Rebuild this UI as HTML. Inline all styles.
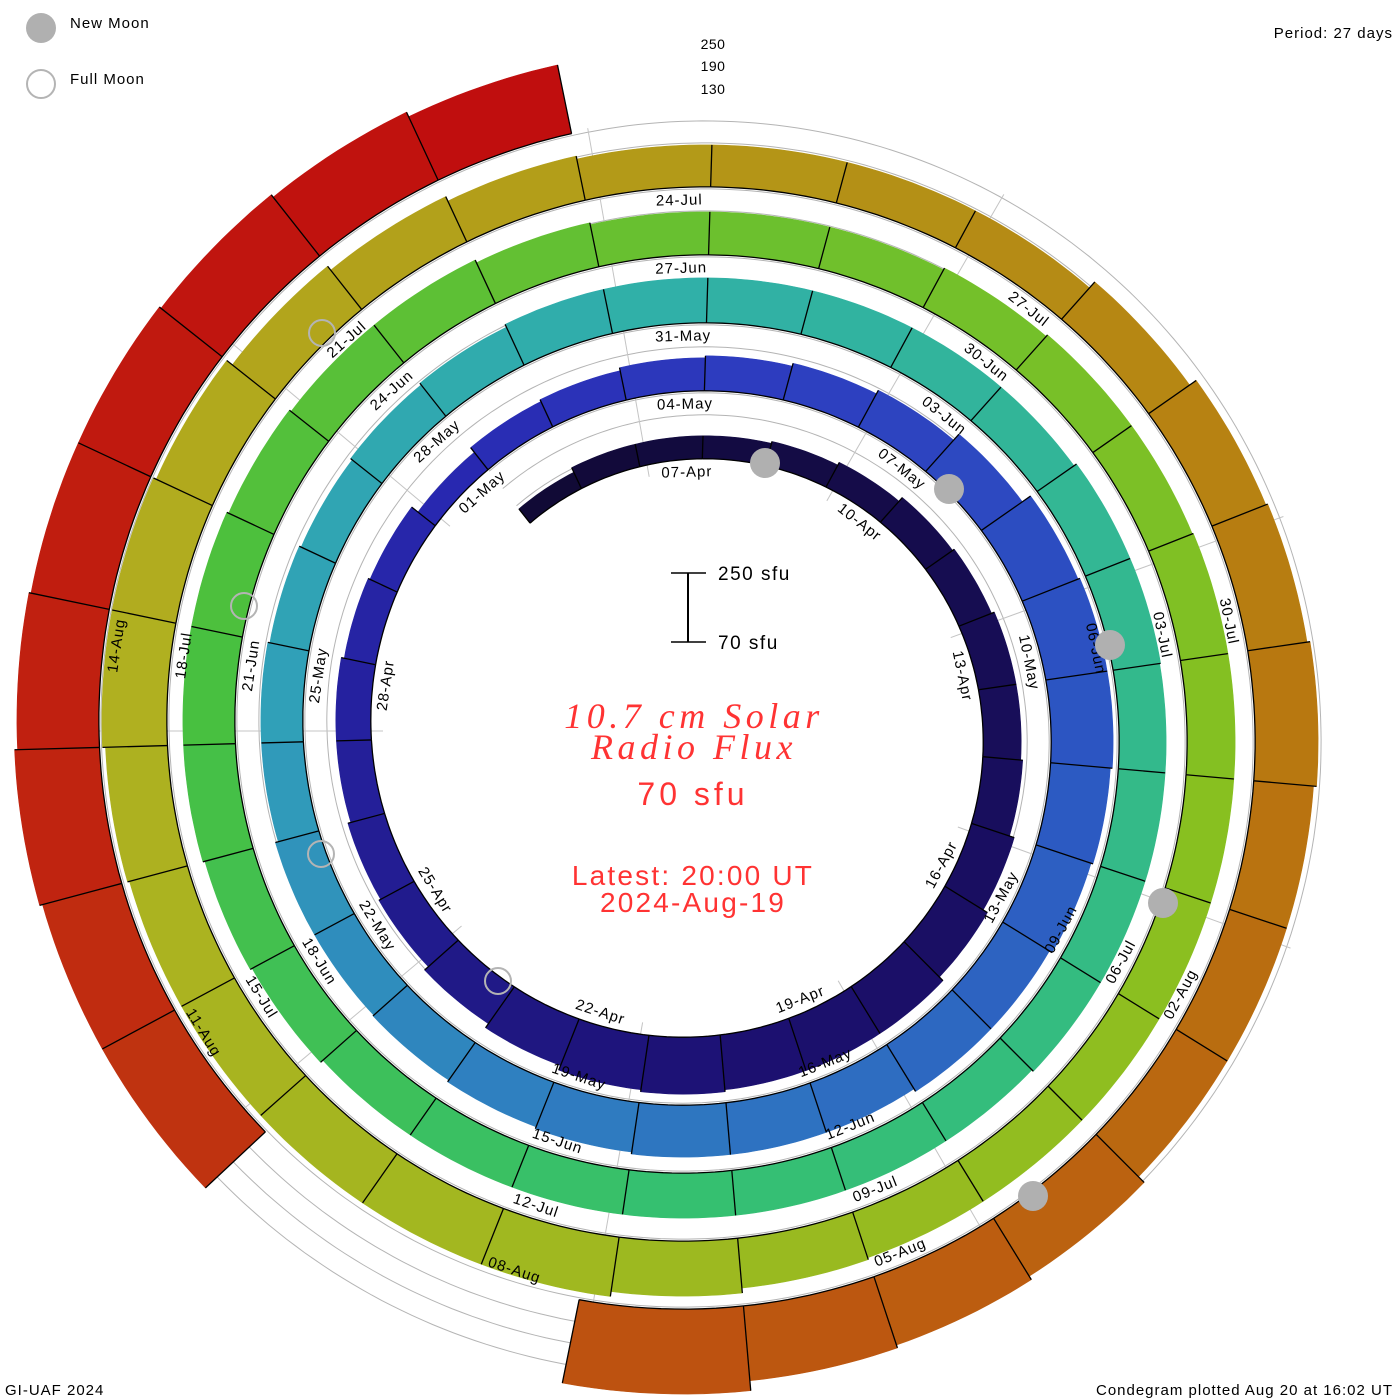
<!DOCTYPE html>
<html><head><meta charset="utf-8">
<style>
html,body{margin:0;padding:0;background:#fff;}
svg{display:block;}
text{font-family:"Liberation Sans",sans-serif;}
</style></head>
<body>
<svg id="s" width="1400" height="1400" viewBox="0 0 1400 1400" xmlns="http://www.w3.org/2000/svg">
<rect width="1400" height="1400" fill="#fff"/>
<g id="guides"></g>
<g id="bars"></g>
<g id="edges"></g>
<g id="labels" font-size="15" fill="#000" letter-spacing="1"></g>
<g id="moons"></g>
<circle cx="41" cy="28" r="15" fill="#b0b0b0"/>
<text x="70" y="28" font-size="15" letter-spacing="1">New Moon</text>
<circle cx="41" cy="84" r="14" fill="none" stroke="#b4b4b4" stroke-width="2"/>
<text x="70" y="84" font-size="15" letter-spacing="1">Full Moon</text>
<text x="1393" y="38" font-size="15" text-anchor="end" letter-spacing="1">Period: 27 days</text>
<text x="713" y="49" font-size="14" text-anchor="middle" letter-spacing="0.5">250</text>
<text x="713" y="71" font-size="14" text-anchor="middle" letter-spacing="0.5">190</text>
<text x="713" y="94" font-size="14" text-anchor="middle" letter-spacing="0.5">130</text>
<line x1="688" y1="573" x2="688" y2="642" stroke="#000" stroke-width="2"/>
<line x1="671" y1="573" x2="706" y2="573" stroke="#000" stroke-width="1.5"/>
<line x1="671" y1="642" x2="706" y2="642" stroke="#000" stroke-width="1.5"/>
<text x="718" y="580" font-size="19" letter-spacing="1.5">250 sfu</text>
<text x="718" y="649" font-size="19" letter-spacing="1.5">70 sfu</text>
<g fill="#ff3333" text-anchor="middle">
<text x="694" y="728" font-size="36" font-style="italic" style="font-family:'Liberation Serif',serif" letter-spacing="4.5">10.7 cm Solar</text>
<text x="694" y="759" font-size="36" font-style="italic" style="font-family:'Liberation Serif',serif" letter-spacing="4.5">Radio Flux</text>
<text x="693" y="805" font-size="32" letter-spacing="4">70 sfu</text>
<text x="693" y="885" font-size="28" letter-spacing="2.2">Latest: 20:00 UT</text>
<text x="693" y="912" font-size="28" letter-spacing="2.2">2024-Aug-19</text>
</g>
<text x="5" y="1395" font-size="15" letter-spacing="1">GI-UAF 2024</text>
<text x="1393" y="1395" font-size="15" text-anchor="end" letter-spacing="1">Condegram plotted Aug 20 at 16:02 UT</text>
</svg>
<script>
(function(){
var NS="http://www.w3.org/2000/svg";
var cx=694,cy=731,R0=272,STEP=68,A0=-38.25,D=360/27;
function rb(a){return R0+STEP*a/360;}
function P(a,r){var t=a*Math.PI/180;return [cx+r*Math.sin(t),cy-r*Math.cos(t)];}
function el(n,at,parent){var e=document.createElementNS(NS,n);for(var k in at)e.setAttribute(k,at[k]);document.getElementById(parent).appendChild(e);return e;}
var H=[18,23,23,23,25,28,33,35,38,38,40,45,50,55,55,55,57,55,50,45,40,38,35,35,32,30,22,
28,30,33,35,38,42,50,60,62,62,60,58,55,55,52,52,52,50,48,46,45,45,42,42,40,38,40,
42,45,45,45,45,45,45,48,48,47,47,47,47,45,45,45,45,45,45,45,48,50,52,52,52,50,48,
48,45,43,43,43,45,47,47,48,48,48,48,48,48,48,50,55,60,60,60,60,60,62,65,65,62,55,
50,45,42,42,42,42,50,58,60,63,60,60,60,68,72,75,85,0,0,0,82,82,85,82,80,80,78,
75,70];
var CS=[[0,"#110a36"],[15,"#1c1070"],[26,"#2828b0"],[30,"#2d3cbf"],[36,"#2c55c2"],[45,"#2f80c0"],[50,"#30a0b8"],[56,"#30b0a8"],[62,"#33b890"],[70,"#35c070"],[77,"#48c040"],[83,"#68c030"],[91,"#88c020"],[98,"#a0b820"],[104,"#b0b020"],[110,"#b39a18"],[117,"#b87810"],[124,"#bd5210"],[130,"#c02410"],[136,"#c00e0e"]];
function hx(s){return [parseInt(s.substr(1,2),16),parseInt(s.substr(3,2),16),parseInt(s.substr(5,2),16)];}
function col(i){for(var k=0;k<CS.length-1;k++){if(i<=CS[k+1][0]){var t=(i-CS[k][0])/(CS[k+1][0]-CS[k][0]);var a=hx(CS[k][1]),b=hx(CS[k+1][1]);return "rgb("+a.map(function(v,j){return Math.round(v+(b[j]-v)*t);}).join(",")+")";}}return CS[CS.length-1][1];}
var N=H.length, AEND=A0+N*D;
[22,44,66].forEach(function(h){var pts=[];for(var a=A0;a<=AEND;a+=1){var p=P(a,rb(a)+h);pts.push(p[0].toFixed(1)+","+p[1].toFixed(1));}
el("polyline",{points:pts.join(" "),fill:"none",stroke:"#b4b4b4","stroke-width":1},"guides");});
for(var k=0;k<9;k++){var a=-10+40*k;var p1=P(a,rb(a)-12),p2=P(a,rb(a+1440)+70);
el("line",{x1:p1[0],y1:p1[1],x2:p2[0],y2:p2[1],stroke:"#c4c4c4","stroke-width":1},"guides");}
for(var i=0;i<N;i++){var h=H[i];if(!h)continue;var a1=A0+i*D,a2=a1+D;
if(i==124)a2+=3; if(i==128)a1-=1.5;
var inner=[],outer=[];
for(var s=0;s<=12;s++){var a=a1+(a2-a1)*s/12;var p=P(a,rb(a));inner.push(p[0].toFixed(1)+","+p[1].toFixed(1));var q=P(a,rb(a)+h);outer.push(q[0].toFixed(1)+","+q[1].toFixed(1));}
el("polygon",{points:inner.concat(outer.reverse()).join(" "),fill:col(i),stroke:col(i),"stroke-width":0.6},"bars");
el("polyline",{points:inner.join(" "),fill:"none",stroke:"#000","stroke-width":1.3},"edges");
var hp=Math.max(h,i>0?H[i-1]:0);var b1=P(a1,rb(a1)),b2=P(a1,rb(a1)+hp);
el("line",{x1:b1[0],y1:b1[1],x2:b2[0],y2:b2[1],stroke:"#000","stroke-width":1.3},"edges");
if(i==N-1||!H[i+1]){var c1=P(a2,rb(a2)),c2=P(a2,rb(a2)+h);el("line",{x1:c1[0],y1:c1[1],x2:c2[0],y2:c2[1],stroke:"#000","stroke-width":1.3},"edges");}
}
var L=["07-Apr","10-Apr","13-Apr","16-Apr","19-Apr","22-Apr","25-Apr","28-Apr","01-May","04-May","07-May","10-May","13-May","16-May","19-May","22-May","25-May","28-May","31-May","03-Jun","06-Jun","09-Jun","12-Jun","15-Jun","18-Jun","21-Jun","24-Jun","27-Jun","30-Jun","03-Jul","06-Jul","09-Jul","12-Jul","15-Jul","18-Jul","21-Jul","24-Jul","27-Jul","30-Jul","02-Aug","05-Aug","08-Aug","11-Aug","14-Aug"];
for(var j=0;j<L.length;j++){var i=2+3*j;var a=A0+i*D+10;var p=P(a,rb(a)-13);var m=((a%360)+360)%360;var rot=((m+90)%180)-90;if(Math.abs(m-90)<4)rot=90;
var t=el("text",{x:p[0].toFixed(1),y:p[1].toFixed(1),"text-anchor":"middle","dominant-baseline":"central",transform:"rotate("+rot.toFixed(1)+" "+p[0].toFixed(1)+" "+p[1].toFixed(1)+")"},"labels");t.textContent=L[j];}
[[765,463],[949,489],[1110,645],[1163,903],[1033,1196]].forEach(function(c){el("circle",{cx:c[0],cy:c[1],r:15,fill:"#b0b0b0"},"moons");});
[[322,333],[244,606],[321,854],[498,981]].forEach(function(c){el("circle",{cx:c[0],cy:c[1],r:13,fill:"none",stroke:"#b4b4b4","stroke-width":2},"moons");});
})();
</script>
</body></html>
